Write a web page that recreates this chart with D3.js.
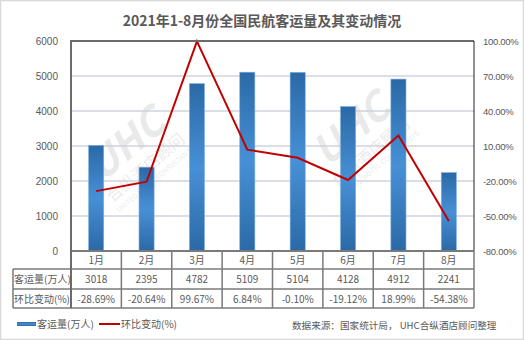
<!DOCTYPE html>
<html><head><meta charset="utf-8">
<script src="https://cdn.jsdelivr.net/npm/d3@7"></script>
<style>
body{margin:0;background:#fff;}
svg{display:block;font-family:"Noto Sans CJK SC","Microsoft YaHei",sans-serif;}
</style></head>
<body>
<svg id="c" width="524" height="340"></svg>
<script>
const months = ["1月","2月","3月","4月","5月","6月","7月","8月"];
const volume = [3018,2395,4782,5109,5104,4128,4912,2241];
const change = [-28.69,-20.64,99.67,6.84,-0.10,-19.12,18.99,-54.38];
const leftTicks = [0,1000,2000,3000,4000,5000,6000];
const rightTicks = [-80,-50,-20,10,40,70,100];
const title = "2021年1-8月份全国民航客运量及其变动情况";
const seriesNames = ["客运量(万人)","环比变动(%)"];
const sourceText = "数据来源：国家统计局， UHC合纵酒店顾问整理";

const svg = d3.select("#c");
const L = 71, R = 474, T = 41, B = 251;
const txt = "#595959";
const fs = 10;

svg.append("rect").attr("x",0.5).attr("y",0.5).attr("width",523).attr("height",339)
  .attr("fill","#fff").attr("stroke","#d9d9d9").attr("stroke-width",1.5);

const defs = svg.append("defs");
const g = defs.append("linearGradient").attr("id","bg").attr("x1",0).attr("y1",0).attr("x2",0).attr("y2",1);
g.append("stop").attr("offset","0%").attr("stop-color","#2b69a6");
g.append("stop").attr("offset","50%").attr("stop-color","#4790d6");
g.append("stop").attr("offset","100%").attr("stop-color","#2b69a6");

svg.append("text").attr("x",262).attr("y",26).attr("text-anchor","middle")
  .attr("font-size",14).attr("font-weight","bold").attr("fill",txt).text(title);

const x = d3.scaleBand().domain(months).range([L,R]).paddingInner(0.7).paddingOuter(0.35);
const yL = d3.scaleLinear().domain([0,6000]).range([B,T]);
const yR = d3.scaleLinear().domain([-80,100]).range([B,T]);

// gridlines
svg.append("g").selectAll("line").data(leftTicks.slice(1,-1)).join("line")
  .attr("x1",L).attr("x2",R).attr("y1",d=>yL(d)).attr("y2",d=>yL(d))
  .attr("stroke","#cfd3de").attr("stroke-width",1.5);

// watermark
function wm(cx,cy){
  const w = svg.append("g").attr("transform",`translate(${cx},${cy}) rotate(-40)`).attr("opacity",0.45);
  w.append("text").attr("text-anchor","middle").attr("y",0).attr("font-size",40).attr("font-weight","bold")
    .attr("font-style","italic").attr("fill","#cfcfcf").text("UHC");
  w.append("text").attr("text-anchor","middle").attr("y",22).attr("font-size",16).attr("fill","#d4d4d4").text("合纵酒店顾问");
  w.append("text").attr("text-anchor","middle").attr("y",34).attr("font-size",7).attr("fill","#d4d4d4").text("UNITED HOTEL CONSULTANTS");
}
wm(135,155); wm(360,140);

// bars
svg.append("g").selectAll("rect").data(volume).join("rect")
  .attr("x",(d,i)=>x(months[i])).attr("width",x.bandwidth())
  .attr("y",d=>yL(d)).attr("height",d=>B-yL(d))
  .attr("fill","url(#bg)").attr("stroke","#7fb0e0").attr("stroke-width",0.6);

// line
const line = d3.line().x((d,i)=>x(months[i])+x.bandwidth()/2).y(d=>yR(d));
svg.append("path").datum(change).attr("d",line).attr("fill","none")
  .attr("stroke","#c00000").attr("stroke-width",2).attr("stroke-linejoin","miter");

// frame
svg.append("line").attr("x1",L).attr("x2",R).attr("y1",T).attr("y2",T).attr("stroke","#6b6b6b").attr("stroke-width",2);
svg.append("line").attr("x1",R).attr("x2",R).attr("y1",T).attr("y2",B).attr("stroke","#222").attr("stroke-width",1);

// axes
const ax = svg.append("g").attr("transform",`translate(58,0)`)
  .call(d3.axisLeft(yL).tickValues(leftTicks).tickSize(0).tickPadding(0).tickFormat(d3.format("d")));
ax.select(".domain").remove();
ax.selectAll("text").attr("font-size",fs).attr("fill",txt).attr("font-family",null);
const ar = svg.append("g").attr("transform",`translate(483,0)`)
  .call(d3.axisRight(yR).tickValues(rightTicks).tickSize(0).tickPadding(0).tickFormat(d=>d.toFixed(2)+"%"));
ar.select(".domain").remove();
ar.selectAll("text").attr("font-size",9.5).attr("letter-spacing",-0.3).attr("fill",txt).attr("font-family",null);

// table
const TL = 13;
const tc = "#7a7a7a";
const tg = svg.append("g");
[269,289,308].forEach(yy=>{
  tg.append("line").attr("x1",TL).attr("x2",R).attr("y1",yy).attr("y2",yy).attr("stroke",tc).attr("stroke-width",1.5);
});
tg.append("line").attr("x1",TL).attr("x2",TL).attr("y1",269).attr("y2",308).attr("stroke",tc).attr("stroke-width",1.5);
const bounds = months.map(m=>x(m)-x.step()*x.paddingInner()/2).concat([R]);
bounds[0] = L;
tg.selectAll(".v").data(bounds).join("line")
  .attr("x1",d=>d).attr("x2",d=>d).attr("y1",B).attr("y2",308)
  .attr("stroke",(d,i)=>i===0?"#6b6b6b":tc).attr("stroke-width",(d,i)=>i===0?2:1.5);
svg.append("line").attr("x1",L).attr("x2",R).attr("y1",B).attr("y2",B).attr("stroke","#7a7a7a").attr("stroke-width",2);
svg.append("line").attr("x1",L).attr("x2",L).attr("y1",T-1).attr("y2",B).attr("stroke","#6b6b6b").attr("stroke-width",2);

const cx = (i)=>x(months[i])+x.bandwidth()/2;
tg.selectAll(".m").data(months).join("text").attr("x",(d,i)=>cx(i)).attr("y",264)
  .attr("text-anchor","middle").attr("font-size",fs).attr("fill",txt).text(d=>d);
tg.selectAll(".v1").data(volume).join("text").attr("x",(d,i)=>cx(i)).attr("y",283)
  .attr("text-anchor","middle").attr("font-size",fs).attr("fill",txt).text(d=>d);
tg.selectAll(".v2").data(change).join("text").attr("x",(d,i)=>cx(i)).attr("y",302.5)
  .attr("text-anchor","middle").attr("font-size",fs).attr("fill",txt).text(d=>d.toFixed(2)+"%");
tg.append("text").attr("x",14).attr("y",283).attr("font-size",fs).attr("fill",txt).text(seriesNames[0]);
tg.append("text").attr("x",14).attr("y",302.5).attr("font-size",fs).attr("fill",txt).text(seriesNames[1]);

// legend
const lg = svg.append("g");
lg.append("rect").attr("x",17).attr("y",322).attr("width",19).attr("height",4).attr("fill","url(#bg)");
lg.append("text").attr("x",37).attr("y",328).attr("font-size",fs).attr("fill",txt).text(seriesNames[0]);
lg.append("line").attr("x1",99).attr("x2",120).attr("y1",324).attr("y2",324).attr("stroke","#c00000").attr("stroke-width",2);
lg.append("text").attr("x",121).attr("y",328).attr("font-size",fs).attr("fill",txt).text(seriesNames[1]);
lg.append("text").attr("x",292).attr("y",328.5).attr("font-size",9.6).attr("fill",txt).text(sourceText);
</script>
</body></html>
